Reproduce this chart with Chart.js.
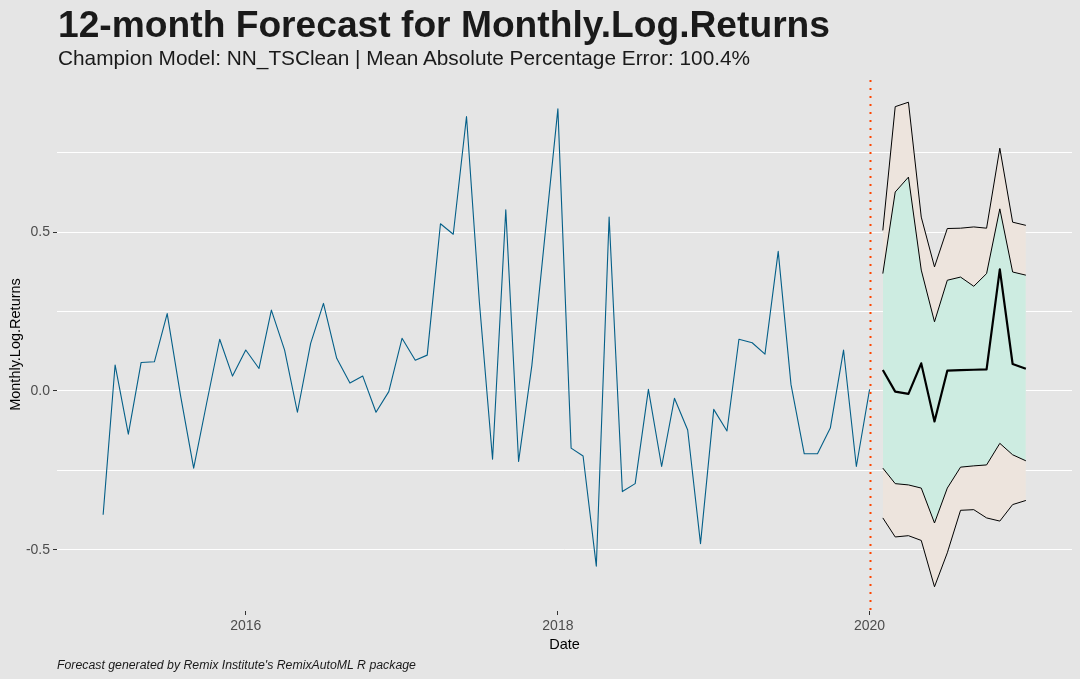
<!DOCTYPE html>
<html>
<head>
<meta charset="utf-8">
<script src="https://cdn.jsdelivr.net/npm/chart.js@4.4.1/dist/chart.umd.min.js"></script>
<style>
  html, body { margin: 0; padding: 0; background: #e5e5e5; }
  .wrap { position: relative; width: 1080px; height: 679px; overflow: hidden; background: #e5e5e5; font-family: "Liberation Sans", Arial, sans-serif; }
  .wrap canvas { position: absolute; left: 0; top: 0; }
  .title { position: absolute; left: 58px; top: 6px; font-size: 37.2px; font-weight: bold; line-height: 1; color: #1a1a1a; white-space: nowrap; }
  .subtitle { position: absolute; left: 58px; top: 48px; font-size: 20.8px; line-height: 1; color: #1a1a1a; white-space: nowrap; }
  .caption { position: absolute; left: 57px; top: 659px; font-size: 12.3px; font-style: italic; line-height: 1; color: #1a1a1a; white-space: nowrap; }
</style>
</head>
<body>
<div class="wrap">
  <canvas class="chart" width="1080" height="679"></canvas>
  <div class="title">12-month Forecast for Monthly.Log.Returns</div>
  <div class="subtitle">Champion Model: NN_TSClean | Mean Absolute Percentage Error: 100.4%</div>
  <div class="caption">Forecast generated by Remix Institute's RemixAutoML R package</div>
</div>
<script>
// data
const histMonths = [
  '2015-02','2015-03','2015-04','2015-05','2015-06','2015-07','2015-08','2015-09','2015-10','2015-11','2015-12',
  '2016-01','2016-02','2016-03','2016-04','2016-05','2016-06','2016-07','2016-08','2016-09','2016-10','2016-11','2016-12',
  '2017-01','2017-02','2017-03','2017-04','2017-05','2017-06','2017-07','2017-08','2017-09','2017-10','2017-11','2017-12',
  '2018-01','2018-02','2018-03','2018-04','2018-05','2018-06','2018-07','2018-08','2018-09','2018-10','2018-11','2018-12',
  '2019-01','2019-02','2019-03','2019-04','2019-05','2019-06','2019-07','2019-08','2019-09','2019-10','2019-11','2019-12',
  '2020-01'
];
const histValues = [
  -0.390, 0.082, -0.136, 0.090, 0.092, 0.244, -0.012, -0.243, -0.041, 0.163, 0.047,
  0.129, 0.071, 0.255, 0.129, -0.067, 0.150, 0.276, 0.103, 0.025, 0.047, -0.067, -0.002,
  0.166, 0.097, 0.113, 0.527, 0.494, 0.865, 0.283, -0.215, 0.571, -0.222, 0.080, 0.480,
  0.889, -0.180, -0.205, -0.552, 0.548, -0.317, -0.292, 0.005, -0.238, -0.023, -0.123, -0.481,
  -0.058, -0.126, 0.163, 0.152, 0.116, 0.440, 0.020, -0.198, -0.198, -0.117, 0.129, -0.238,
  0.005
];

const fcMonths = ['2020-02','2020-03','2020-04','2020-05','2020-06','2020-07','2020-08','2020-09','2020-10','2020-11','2020-12','2021-01'];
const fcMean  = [0.066, -0.002, -0.009, 0.087, -0.096, 0.064, 0.066, 0.067, 0.068, 0.383, 0.085, 0.070];
const fcUp80  = [0.370, 0.627, 0.674, 0.381, 0.218, 0.349, 0.359, 0.330, 0.370, 0.574, 0.375, 0.365];
const fcLow80 = [-0.243, -0.292, -0.296, -0.306, -0.416, -0.306, -0.240, -0.236, -0.233, -0.165, -0.201, -0.220];
const fcUp95  = [0.506, 0.896, 0.910, 0.548, 0.391, 0.512, 0.513, 0.517, 0.513, 0.765, 0.532, 0.522];
const fcLow95 = [-0.400, -0.460, -0.456, -0.471, -0.617, -0.510, -0.376, -0.374, -0.400, -0.410, -0.358, -0.345];

const forecastStart = '2020-01';
const xTickLabels = ['2016', '2018', '2020'];
const yTicks = [-0.5, -0.25, 0, 0.25, 0.5, 0.75];
const yMajor = [-0.5, 0, 0.5];

// helpers
const DAY = 86400000;
function monthToX(m) {
  const parts = m.split('-');
  return Date.UTC(+parts[0], +parts[1] - 1, 1) / DAY;
}
function yearToX(y) {
  return Date.UTC(+y, 0, 1) / DAY;
}
function toPoints(months, values) {
  return months.map((m, i) => ({x: monthToX(m), y: values[i]}));
}

// scale limits with ggplot style 5% expansion
const allY = histValues.concat(fcMean, fcUp80, fcLow80, fcUp95, fcLow95);
const yLo = Math.min(...allY), yHi = Math.max(...allY);
const yPad = (yHi - yLo) * 0.05;
const xLo = monthToX(histMonths[0]), xHi = monthToX(fcMonths[fcMonths.length - 1]);
const xPad = (xHi - xLo) * 0.05;

// red dotted line at start of forecast
const vlinePlugin = {
  id: 'vline',
  afterDatasetsDraw(chart) {
    const ctx = chart.ctx;
    const area = chart.chartArea;
    const x = Math.round(chart.scales.x.getPixelForValue(monthToX(forecastStart))) + 0.5;
    ctx.save();
    ctx.strokeStyle = '#ff4500';
    ctx.lineWidth = 2;
    ctx.setLineDash([2, 6]);
    ctx.beginPath();
    ctx.moveTo(x, area.top + 2);
    ctx.lineTo(x, area.bottom);
    ctx.stroke();
    ctx.restore();
  }
};

const lineBase = {pointRadius: 0, tension: 0, borderJoinStyle: 'round'};

const chart = new Chart(document.querySelector('.chart').getContext('2d'), {
  type: 'line',
  data: {
    datasets: [
      Object.assign({label: 'Monthly.Log.Returns', data: toPoints(histMonths, histValues),
        borderColor: '#045f88', borderWidth: 1.1, fill: false, order: 0}, lineBase),
      Object.assign({label: 'Forecast', data: toPoints(fcMonths, fcMean),
        borderColor: '#000000', borderWidth: 2.2, fill: false, order: 0}, lineBase),
      Object.assign({label: 'Upper 80', data: toPoints(fcMonths, fcUp80),
        borderColor: '#000000', borderWidth: 1, fill: '+1', backgroundColor: '#cdece1', order: 1}, lineBase),
      Object.assign({label: 'Lower 80', data: toPoints(fcMonths, fcLow80),
        borderColor: '#000000', borderWidth: 1, fill: false, order: 1}, lineBase),
      Object.assign({label: 'Upper 95', data: toPoints(fcMonths, fcUp95),
        borderColor: '#000000', borderWidth: 1, fill: '+1', backgroundColor: '#ede4dd', order: 2}, lineBase),
      Object.assign({label: 'Lower 95', data: toPoints(fcMonths, fcLow95),
        borderColor: '#000000', borderWidth: 1, fill: false, order: 2}, lineBase)
    ]
  },
  options: {
    responsive: false,
    animation: false,
    devicePixelRatio: 1,
    layout: {padding: {top: 78, right: 8, bottom: 22, left: 0}},
    plugins: {
      legend: {display: false},
      tooltip: {enabled: false},
      filler: {drawTime: 'beforeDatasetsDraw'}
    },
    scales: {
      x: {
        type: 'linear',
        min: xLo - xPad,
        max: xHi + xPad,
        afterBuildTicks: s => { s.ticks = xTickLabels.map(y => ({value: yearToX(y)})); },
        afterFit: s => { s.height = 46; },
        ticks: {
          callback: v => String(new Date(v * DAY).getUTCFullYear()),
          color: '#4d4d4d',
          font: {family: '"Liberation Sans", Arial, sans-serif', size: 14},
          padding: 3,
          maxRotation: 0,
          autoSkip: false
        },
        grid: {drawOnChartArea: false, drawTicks: true, tickLength: 4, tickColor: '#333333'},
        border: {display: false},
        title: {
          display: true,
          text: 'Date',
          color: '#000000',
          font: {family: '"Liberation Sans", Arial, sans-serif', size: 14.5},
          padding: {top: 0, bottom: 3}
        }
      },
      y: {
        type: 'linear',
        min: yLo - yPad,
        max: yHi + yPad,
        afterBuildTicks: s => { s.ticks = yTicks.map(v => ({value: v})); },
        afterFit: s => { s.width = 57; },
        ticks: {
          callback: v => yMajor.includes(v) ? v.toFixed(1) : '',
          color: '#4d4d4d',
          font: {family: '"Liberation Sans", Arial, sans-serif', size: 14},
          padding: 3,
          autoSkip: false
        },
        grid: {
          color: '#ffffff',
          lineWidth: 1,
          drawTicks: true,
          tickLength: 4,
          tickColor: c => (c.tick && yMajor.includes(c.tick.value)) ? '#333333' : 'rgba(0,0,0,0)'
        },
        border: {display: false},
        title: {
          display: true,
          text: 'Monthly.Log.Returns',
          color: '#000000',
          font: {family: '"Liberation Sans", Arial, sans-serif', size: 14.5},
          padding: {top: 7, bottom: 0}
        }
      }
    }
  },
  plugins: [vlinePlugin]
});
</script>
</body>
</html>
